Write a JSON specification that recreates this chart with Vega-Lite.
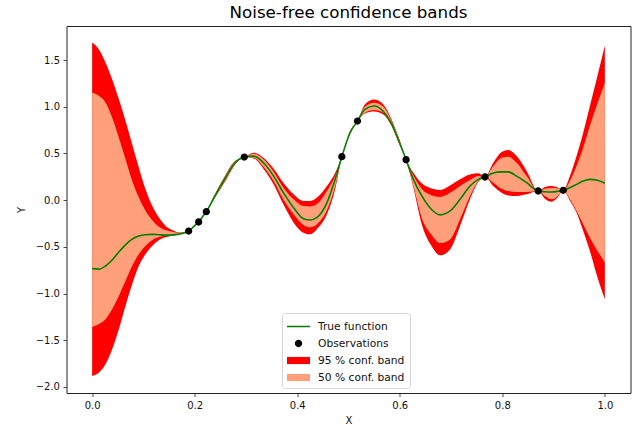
{
  "$schema": "https://vega.github.io/schema/vega-lite/v6.json",
  "autosize": "none",
  "width": 564,
  "height": 367,
  "padding": {"left": 66.5, "top": 26, "right": 12.5, "bottom": 35},
  "background": "white",
  "title": {
    "text": "Noise-free confidence bands",
    "font": "DejaVu Sans",
    "fontSize": 16.7,
    "fontWeight": "normal",
    "color": "#000",
    "anchor": "middle",
    "frame": "group",
    "baseline": "bottom",
    "offset": -13
  },
  "config": {
    "view": {"stroke": "#222", "strokeWidth": 1},
    "axis": {
      "grid": false,
      "domain": false,
      "tickColor": "#222",
      "tickSize": 3.5,
      "tickWidth": 0.8,
      "labelFont": "DejaVu Sans",
      "labelFontSize": 10,
      "labelColor": "#111",
      "labelPadding": 3.5,
      "titleFont": "DejaVu Sans",
      "titleFontSize": 10,
      "titleFontWeight": "normal",
      "titleColor": "#111"
    },
    "legend": {
      "orient": "none",
      "legendX": 215.5,
      "legendY": 287,
      "padding": 5,
      "symbolOffset": 3,
      "labelOffset": 11,
      "symbolSize": 289,
      "symbolStrokeWidth": 0,
      "rowPadding": 3,
      "labelFont": "DejaVu Sans",
      "labelFontSize": 10.7,
      "labelColor": "#111",
      "strokeColor": "#d6d6d6",
      "fillColor": "#ffffff",
      "cornerRadius": 3
    }
  },
  "datasets": {
    "curves": [
      {"x": 0.000, "hi95": 1.689, "hi50": 1.154, "f": -0.733, "lo50": -1.358, "lo95": -1.882},
      {"x": 0.013, "hi95": 1.617, "hi50": 1.118, "f": -0.738, "lo50": -1.329, "lo95": -1.847},
      {"x": 0.026, "hi95": 1.475, "hi50": 1.047, "f": -0.705, "lo50": -1.276, "lo95": -1.757},
      {"x": 0.039, "hi95": 1.296, "hi50": 0.886, "f": -0.640, "lo50": -1.169, "lo95": -1.597},
      {"x": 0.052, "hi95": 1.082, "hi50": 0.672, "f": -0.555, "lo50": -1.026, "lo95": -1.383},
      {"x": 0.065, "hi95": 0.851, "hi50": 0.440, "f": -0.478, "lo50": -0.866, "lo95": -1.133},
      {"x": 0.078, "hi95": 0.600, "hi50": 0.209, "f": -0.418, "lo50": -0.705, "lo95": -0.901},
      {"x": 0.091, "hi95": 0.351, "hi50": 0.030, "f": -0.385, "lo50": -0.580, "lo95": -0.705},
      {"x": 0.104, "hi95": 0.119, "hi50": -0.113, "f": -0.370, "lo50": -0.491, "lo95": -0.580},
      {"x": 0.117, "hi95": -0.059, "hi50": -0.213, "f": -0.366, "lo50": -0.430, "lo95": -0.491},
      {"x": 0.130, "hi95": -0.184, "hi50": -0.284, "f": -0.370, "lo50": -0.395, "lo95": -0.430},
      {"x": 0.143, "hi95": -0.273, "hi50": -0.320, "f": -0.374, "lo50": -0.382, "lo95": -0.398},
      {"x": 0.156, "hi95": -0.320, "hi50": -0.337, "f": -0.372, "lo50": -0.376, "lo95": -0.382},
      {"x": 0.169, "hi95": -0.345, "hi50": -0.348, "f": -0.364, "lo50": -0.365, "lo95": -0.368},
      {"x": 0.1882, "hi95": -0.331, "hi50": -0.331, "f": -0.331, "lo50": -0.331, "lo95": -0.331},
      {"x": 0.198, "hi95": -0.278, "hi50": -0.280, "f": -0.284, "lo50": -0.288, "lo95": -0.290},
      {"x": 0.2077, "hi95": -0.234, "hi50": -0.234, "f": -0.234, "lo50": -0.234, "lo95": -0.234},
      {"x": 0.215, "hi95": -0.175, "hi50": -0.177, "f": -0.180, "lo50": -0.183, "lo95": -0.185},
      {"x": 0.2227, "hi95": -0.123, "hi50": -0.123, "f": -0.123, "lo50": -0.123, "lo95": -0.123},
      {"x": 0.240, "hi95": 0.070, "hi50": 0.065, "f": 0.050, "lo50": 0.035, "lo95": 0.030},
      {"x": 0.260, "hi95": 0.270, "hi50": 0.262, "f": 0.240, "lo50": 0.215, "lo95": 0.205},
      {"x": 0.276, "hi95": 0.405, "hi50": 0.398, "f": 0.383, "lo50": 0.365, "lo95": 0.358},
      {"x": 0.2967, "hi95": 0.461, "hi50": 0.461, "f": 0.461, "lo50": 0.461, "lo95": 0.461},
      {"x": 0.315, "hi95": 0.508, "hi50": 0.497, "f": 0.472, "lo50": 0.455, "lo95": 0.447},
      {"x": 0.334, "hi95": 0.455, "hi50": 0.437, "f": 0.401, "lo50": 0.358, "lo95": 0.337},
      {"x": 0.354, "hi95": 0.337, "hi50": 0.301, "f": 0.258, "lo50": 0.205, "lo95": 0.169},
      {"x": 0.373, "hi95": 0.187, "hi50": 0.133, "f": 0.080, "lo50": 0.009, "lo95": -0.045},
      {"x": 0.393, "hi95": 0.062, "hi50": 0.009, "f": -0.081, "lo50": -0.152, "lo95": -0.241},
      {"x": 0.412, "hi95": -0.009, "hi50": -0.063, "f": -0.198, "lo50": -0.265, "lo95": -0.348},
      {"x": 0.425, "hi95": -0.009, "hi50": -0.068, "f": -0.213, "lo50": -0.290, "lo95": -0.366},
      {"x": 0.438, "hi95": 0.026, "hi50": -0.045, "f": -0.188, "lo50": -0.260, "lo95": -0.313},
      {"x": 0.458, "hi95": 0.151, "hi50": 0.098, "f": -0.027, "lo50": -0.105, "lo95": -0.152},
      {"x": 0.474, "hi95": 0.294, "hi50": 0.258, "f": 0.223, "lo50": 0.151, "lo95": 0.116},
      {"x": 0.487, "hi95": 0.466, "hi50": 0.466, "f": 0.466, "lo50": 0.466, "lo95": 0.466},
      {"x": 0.503, "hi95": 0.740, "hi50": 0.735, "f": 0.722, "lo50": 0.712, "lo95": 0.705},
      {"x": 0.5175, "hi95": 0.847, "hi50": 0.847, "f": 0.847, "lo50": 0.847, "lo95": 0.847},
      {"x": 0.532, "hi95": 1.025, "hi50": 1.000, "f": 0.972, "lo50": 0.936, "lo95": 0.929},
      {"x": 0.550, "hi95": 1.079, "hi50": 1.043, "f": 1.008, "lo50": 0.965, "lo95": 0.950},
      {"x": 0.568, "hi95": 1.025, "hi50": 1.000, "f": 0.950, "lo50": 0.936, "lo95": 0.918},
      {"x": 0.584, "hi95": 0.865, "hi50": 0.847, "f": 0.820, "lo50": 0.811, "lo95": 0.793},
      {"x": 0.597, "hi95": 0.686, "hi50": 0.675, "f": 0.651, "lo50": 0.635, "lo95": 0.625},
      {"x": 0.6123, "hi95": 0.433, "hi50": 0.433, "f": 0.433, "lo50": 0.433, "lo95": 0.433},
      {"x": 0.6266, "hi95": 0.294, "hi50": 0.265, "f": 0.223, "lo50": 0.151, "lo95": 0.133},
      {"x": 0.643, "hi95": 0.180, "hi50": 0.120, "f": 0.045, "lo50": -0.190, "lo95": -0.260},
      {"x": 0.662, "hi95": 0.125, "hi50": 0.053, "f": -0.100, "lo50": -0.370, "lo95": -0.490},
      {"x": 0.6786, "hi95": 0.110, "hi50": 0.035, "f": -0.158, "lo50": -0.460, "lo95": -0.590},
      {"x": 0.6981, "hi95": 0.158, "hi50": 0.080, "f": -0.116, "lo50": -0.420, "lo95": -0.527},
      {"x": 0.7176, "hi95": 0.223, "hi50": 0.151, "f": 0.009, "lo50": -0.205, "lo95": -0.277},
      {"x": 0.737, "hi95": 0.276, "hi50": 0.215, "f": 0.151, "lo50": 0.044, "lo95": 0.009},
      {"x": 0.7532, "hi95": 0.287, "hi50": 0.258, "f": 0.223, "lo50": 0.205, "lo95": 0.194},
      {"x": 0.7662, "hi95": 0.248, "hi50": 0.248, "f": 0.248, "lo50": 0.248, "lo95": 0.248},
      {"x": 0.7824, "hi95": 0.401, "hi50": 0.365, "f": 0.290, "lo50": 0.187, "lo95": 0.151},
      {"x": 0.7987, "hi95": 0.515, "hi50": 0.455, "f": 0.303, "lo50": 0.123, "lo95": 0.080},
      {"x": 0.8117, "hi95": 0.537, "hi50": 0.465, "f": 0.303, "lo50": 0.098, "lo95": 0.051},
      {"x": 0.8279, "hi95": 0.472, "hi50": 0.401, "f": 0.258, "lo50": 0.087, "lo95": 0.044},
      {"x": 0.8474, "hi95": 0.312, "hi50": 0.258, "f": 0.187, "lo50": 0.087, "lo95": 0.062},
      {"x": 0.870, "hi95": 0.098, "hi50": 0.098, "f": 0.098, "lo50": 0.098, "lo95": 0.098},
      {"x": 0.8831, "hi95": 0.141, "hi50": 0.123, "f": 0.090, "lo50": 0.044, "lo95": 0.016},
      {"x": 0.896, "hi95": 0.151, "hi50": 0.130, "f": 0.087, "lo50": 0.009, "lo95": -0.016},
      {"x": 0.9091, "hi95": 0.133, "hi50": 0.125, "f": 0.095, "lo50": 0.051, "lo95": 0.037},
      {"x": 0.9188, "hi95": 0.105, "hi50": 0.105, "f": 0.105, "lo50": 0.105, "lo95": 0.105},
      {"x": 0.9318, "hi95": 0.258, "hi50": 0.205, "f": 0.133, "lo50": 0.009, "lo95": -0.005},
      {"x": 0.9448, "hi95": 0.472, "hi50": 0.365, "f": 0.169, "lo50": -0.116, "lo95": -0.134},
      {"x": 0.9578, "hi95": 0.722, "hi50": 0.562, "f": 0.205, "lo50": -0.259, "lo95": -0.330},
      {"x": 0.9708, "hi95": 1.008, "hi50": 0.793, "f": 0.223, "lo50": -0.402, "lo95": -0.544},
      {"x": 0.9838, "hi95": 1.293, "hi50": 1.008, "f": 0.215, "lo50": -0.527, "lo95": -0.794},
      {"x": 1.000, "hi95": 1.657, "hi50": 1.257, "f": 0.180, "lo50": -0.669, "lo95": -1.062}
    ],
    "obs": [
      {"x": 0.1882, "y": -0.331, "series": "Observations"},
      {"x": 0.2077, "y": -0.234, "series": "Observations"},
      {"x": 0.2227, "y": -0.123, "series": "Observations"},
      {"x": 0.2967, "y": 0.461, "series": "Observations"},
      {"x": 0.487, "y": 0.466, "series": "Observations"},
      {"x": 0.5175, "y": 0.847, "series": "Observations"},
      {"x": 0.6123, "y": 0.433, "series": "Observations"},
      {"x": 0.7662, "y": 0.248, "series": "Observations"},
      {"x": 0.870, "y": 0.098, "series": "Observations"},
      {"x": 0.9188, "y": 0.105, "series": "Observations"}
    ]
  },
  "encoding": {
    "x": {
      "field": "x",
      "type": "quantitative",
      "scale": {"domain": [-0.05, 1.05], "nice": false, "zero": false},
      "axis": {"title": "X", "values": [0, 0.2, 0.4, 0.6, 0.8, 1.0], "format": ".1f", "titlePadding": 5}
    }
  },
  "layer": [
    {
      "data": {"name": "curves"},
      "mark": {"type": "area", "color": "#ff0000", "interpolate": "monotone", "opacity": 1},
      "encoding": {
        "y": {
          "field": "lo95",
          "type": "quantitative",
          "scale": {"domain": [-2.065, 1.865], "nice": false, "zero": false},
          "axis": {"title": "Y", "values": [-2, -1.5, -1, -0.5, 0, 0.5, 1, 1.5], "format": ".1f", "titlePadding": 9}
        },
        "y2": {"field": "hi95"}
      }
    },
    {
      "data": {"name": "curves"},
      "mark": {"type": "area", "color": "#ffa07a", "interpolate": "monotone", "opacity": 1},
      "encoding": {
        "y": {"field": "lo50", "type": "quantitative"},
        "y2": {"field": "hi50"}
      }
    },
    {
      "data": {"name": "curves"},
      "mark": {"type": "line", "color": "#008000", "strokeWidth": 1.6, "interpolate": "monotone"},
      "encoding": {
        "y": {"field": "f", "type": "quantitative"}
      }
    },
    {
      "data": {"name": "obs"},
      "mark": {"type": "point", "filled": true, "opacity": 1, "size": 289, "strokeWidth": 0},
      "encoding": {
        "y": {"field": "y", "type": "quantitative"},
        "color": {
          "field": "series",
          "type": "nominal",
          "scale": {
            "domain": ["True function", "Observations", "95 % conf. band", "50 % conf. band"],
            "range": ["#008000", "#000000", "#ff0000", "#ffa07a"]
          },
          "legend": {"title": null}
        },
        "shape": {
          "field": "series",
          "type": "nominal",
          "scale": {
            "domain": ["True function", "Observations", "95 % conf. band", "50 % conf. band"],
            "range": [
              "M-1.35,-0.09H1.35V0.09H-1.35Z",
              "M-0.43,0A0.43,0.43 0 1,0 0.43,0A0.43,0.43 0 1,0 -0.43,0Z",
              "M-1.35,-0.42H1.35V0.42H-1.35Z",
              "M-1.35,-0.42H1.35V0.42H-1.35Z"
            ]
          },
          "legend": {"title": null}
        }
      }
    }
  ]
}
